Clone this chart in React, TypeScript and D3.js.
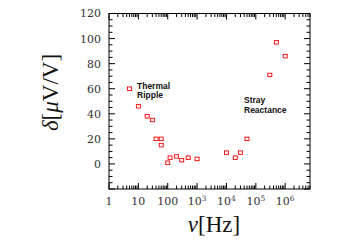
import React from 'react'
import * as d3 from 'd3'

const freq = [5, 10, 20, 30, 40, 60, 60, 100, 120, 200, 300, 500, 1000, 1e4, 2e4, 3e4, 5e4, 3e5, 5e5, 1e6]
const delta = [60, 46, 38, 35, 20, 20, 15, 1, 5, 6, 3, 5, 4, 9, 5, 9, 20, 71, 97, 86]
const yTicks = [0, 20, 40, 60, 80, 100, 120]
const xLabelExp = [0, 1, 2, 3, 4, 5, 6]

const W = 346
const H = 245
const left = 109
const right = 310
const top = 13.5
const bottom = 189

export default function App() {
	const x = d3.scaleLog().domain([1, 7e6]).range([left, right])
	const y = d3.scaleLinear().domain([-20, 120]).range([bottom, top])

	const xMinor: number[] = []
	for (let e = 0; e <= 6; e++) {
		for (let m = 2; m <= 9; m++) {
			const v = m * Math.pow(10, e)
			if (v <= 7e6) xMinor.push(v)
		}
	}
	const xMajor = xLabelExp.map((e) => Math.pow(10, e))
	const yMinor = d3.range(-20, 121, 5).filter((v) => v % 20 !== 0)
	const yMajor = d3.range(-20, 121, 20)

	const major = 6
	const minor = 3.5
	const serif = '"DejaVu Serif", serif'
	const times = '"Liberation Serif", "Times New Roman", serif'
	const sans = '"Liberation Sans", Arial, sans-serif'

	return (
		<div style={{ position: 'fixed', left: 0, top: 0 }}>
			<svg width={W} height={H} style={{ display: 'block', background: '#fff' }}>
				<rect x={left} y={top} width={right - left} height={bottom - top} fill="none" stroke="#000" strokeWidth={1} />
				{/* x ticks, bottom and top, inward */}
				<g stroke="#000" strokeWidth={1}>
					{xMajor.map((v) => (
						<g key={'xm' + v}>
							<line x1={x(v)} x2={x(v)} y1={bottom} y2={bottom - major} />
							<line x1={x(v)} x2={x(v)} y1={top} y2={top + major} />
						</g>
					))}
					{xMinor.map((v) => (
						<g key={'xn' + v}>
							<line x1={x(v)} x2={x(v)} y1={bottom} y2={bottom - minor} />
							<line x1={x(v)} x2={x(v)} y1={top} y2={top + minor} />
						</g>
					))}
					{yMajor.map((v) => (
						<g key={'ym' + v}>
							<line x1={left} x2={left + major} y1={y(v)} y2={y(v)} />
							<line x1={right} x2={right - major} y1={y(v)} y2={y(v)} />
						</g>
					))}
					{yMinor.map((v) => (
						<g key={'yn' + v}>
							<line x1={left} x2={left + minor} y1={y(v)} y2={y(v)} />
							<line x1={right} x2={right - minor} y1={y(v)} y2={y(v)} />
						</g>
					))}
				</g>
				{/* y tick labels */}
				{yTicks.map((v) => (
					<text key={'yl' + v} x={101} y={y(v)} dy="0.36em" textAnchor="end" fontFamily={serif} fontSize={11} fill="#333">
						{v}
					</text>
				))}
				{/* x tick labels */}
				{xLabelExp.map((e) => (
					<text key={'xl' + e} x={x(Math.pow(10, e))} y={205} textAnchor="middle" fontFamily={serif} fontSize={11} fill="#333">
						{e === 0 ? '1' : e === 1 ? '10' : e === 2 ? '100' : (
							<>
								10<tspan dy={-4} fontSize={7.5}>{e}</tspan>
							</>
						)}
					</text>
				))}
				{/* points */}
				{freq.map((f, i) => (
					<rect key={'p' + i} x={x(f) - 2} y={y(delta[i]) - 1.75} width={4} height={3.5} fill="none" stroke="#f00" strokeWidth={0.9} />
				))}
				{/* annotations */}
				<text x={137} y={88.5} fontFamily={sans} fontWeight="bold" fontSize={8.5} fill="#111">Thermal</text>
				<text x={137} y={98} fontFamily={sans} fontWeight="bold" fontSize={8.5} fill="#111">Ripple</text>
				<text x={244} y={103} fontFamily={sans} fontWeight="bold" fontSize={8.5} fill="#111">Stray</text>
				<text x={244} y={113} fontFamily={sans} fontWeight="bold" fontSize={8.5} fill="#111">Reactance</text>
				{/* axis titles */}
				<text x={214} y={232} textAnchor="middle" fontFamily={times} fontSize={23} fill="#111">
					<tspan fontStyle="italic">ν</tspan>[Hz]
				</text>
				<text transform="translate(58,92.5) rotate(-90)" textAnchor="middle" fontFamily={times} fontSize={23} fill="#111">
					<tspan fontStyle="italic">δ</tspan>[<tspan fontStyle="italic">μ</tspan>V/V]
				</text>
			</svg>
		</div>
	)
}
